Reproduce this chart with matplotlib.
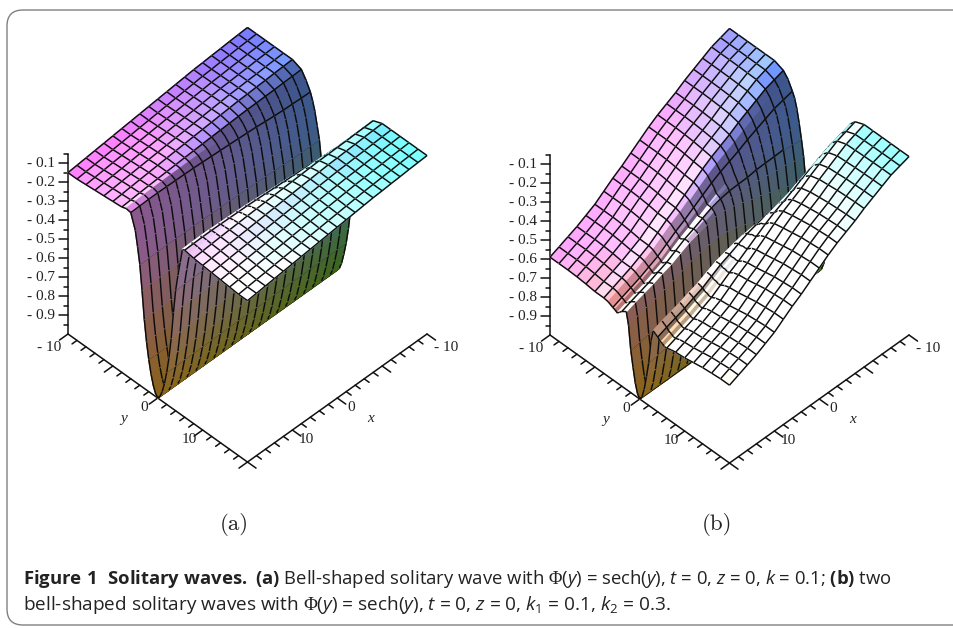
import numpy as np
import matplotlib
matplotlib.use("Agg")
import matplotlib.pyplot as plt
from matplotlib.patches import FancyBboxPatch
from mpl_toolkits.mplot3d import proj3d
from mpl_toolkits.mplot3d.art3d import Poly3DCollection

# x stations, front (x=20) to back (x=-20)
x_stations = [20, 18, 16, 14, 12, 10, 8, 6, 4, 2, 0, -2, -4, -6, -8, -10, -12, -14, -16, -18, -20]
# y positions of the surface rows, finer across the trough
y_knots = [-20, -18, -16, -14, -12, -10, -8, -7, -6, -5.5, -5, -4.5, -4, -3.5, -3, -2.5, -2, -1.5, -1, -0.5, 0,
           0.5, 1, 1.5, 2, 2.5, 3, 3.5, 4, 4.5, 5, 5.5, 6, 7, 8, 10, 12, 14, 16, 18, 20]

# (a) height of the outer edge (y=-20) at each x station
edge_a = [-0.15, -0.145, -0.14, -0.135, -0.13, -0.125, -0.12, -0.115, -0.11, -0.105, -0.10,
          -0.095, -0.09, -0.085, -0.08, -0.077, -0.073, -0.07, -0.066, -0.063, -0.06]
# (a) share of the height above z=-1 at each y knot, front of the trough
trough_a = [1.0, 1.0, 1.005, 1.01, 1.015, 1.02, 1.025, 1.035, 1.03, 0.985, 0.94, 0.85, 0.75, 0.6, 0.43, 0.3, 0.2, 0.12, 0.06, 0.02, 0.0,
            0.02, 0.06, 0.12, 0.2, 0.3, 0.43, 0.6, 0.75, 0.85, 0.94, 1.03, 1.035, 1.03, 1.025, 1.02, 1.015, 1.01, 1.005, 1.0, 1.0]
# (a) the rim gets rounder towards the back
soft_y = [0, 0, -0.005, -0.01, -0.015, -0.02, -0.045, -0.095, -0.14, -0.135, -0.14, -0.12, -0.09, -0.06, -0.03, -0.02, -0.01, 0, 0, 0, 0,
          0, 0, 0, -0.01, -0.02, -0.03, -0.06, -0.09, -0.12, -0.14, -0.16, -0.14, -0.09, -0.045, -0.02, -0.015, -0.01, -0.005, 0, 0]
soft_x = [0.0, 0.03, 0.06, 0.1, 0.15, 0.2, 0.25, 0.3, 0.36, 0.42, 0.48, 0.54, 0.6, 0.66, 0.72, 0.78, 0.84, 0.89, 0.93, 0.97, 1.0]

# (b) same idea, the outer edge bends much more
edge_b = [-0.59, -0.57, -0.55, -0.53, -0.505, -0.48, -0.445, -0.41, -0.38, -0.345, -0.31,
          -0.275, -0.245, -0.22, -0.195, -0.165, -0.14, -0.115, -0.09, -0.075, -0.06]
trough_b = [1.0, 1.0, 1.0, 1.0, 1.0, 1.0, 0.98, 0.95, 0.9, 0.87, 0.82, 0.75, 0.67, 0.58, 0.45, 0.32, 0.22, 0.13, 0.06, 0.02, 0.0,
            0.02, 0.06, 0.13, 0.22, 0.32, 0.45, 0.58, 0.67, 0.75, 0.82, 0.87, 0.9, 0.95, 0.98, 1.0, 1.0, 1.0, 1.0, 1.0, 1.0]
# (b) extra ripple next to the trough and how strong it is along x
ripple_y = [0, 0, 0, -0.005, -0.015, -0.03, -0.01, 0.01, 0.03, 0.05, 0.08, 0.18, 0.29, 0.40, 0.55, 0.53, 0.33, 0.22, 0.11, 0.03, 0,
            0.03, 0.11, 0.22, 0.33, 0.53, 0.55, 0.40, 0.29, 0.18, 0.1, 0.03, 0.0, -0.03, -0.05, -0.06, -0.04, -0.02, -0.01, 0, 0]
ripple_x = [1.0, 0.99, 0.97, 0.95, 0.93, 0.9, 0.87, 0.84, 0.8, 0.75, 0.7, 0.62, 0.54, 0.46, 0.38, 0.31, 0.24, 0.17, 0.11, 0.05, 0.0]

z_major = [-0.9, -0.8, -0.7, -0.6, -0.5, -0.4, -0.3, -0.2, -0.1]
z_labels = ["- 0.9", "- 0.8", "- 0.7", "- 0.6", "- 0.5", "- 0.4", "- 0.3", "- 0.2", "- 0.1"]
floor_ticks = [-20, -10, 0, 10, 20]
y_ticklabels = ["- 10", "", "0", "10", ""]
x_ticklabels = ["- 10", "", "0", "10", ""]

W, H = 954, 628
ELEV, AZIM = 45.5, 45
BOX_Z = 1.067

plt.rcParams.update({
    'mathtext.fontset': 'custom',
    'mathtext.rm': 'Open Sans',
    'mathtext.it': 'Open Sans:italic',
    'mathtext.bf': 'Open Sans:bold',
    'mathtext.cal': 'Liberation Serif',
    'mathtext.default': 'regular',
})

fig = plt.figure(figsize=(W / 100, H / 100), dpi=100, facecolor='white')

bg = fig.add_axes([0, 0, 1, 1], zorder=5)
bg.set_xlim(0, W)
bg.set_ylim(H, 0)
bg.axis('off')
bg.add_patch(FancyBboxPatch((7, 10), 1000, 615, boxstyle="round,pad=0,rounding_size=16",
                            fc='none', ec='#808080', lw=1))


def surface_colors(xc, yc, zc, zx, zy):
    kz = 42.8
    n = np.stack([-zx * kz, -zy * kz, np.ones_like(zc)], axis=-1)
    n = n / np.linalg.norm(n, axis=-1, keepdims=True)
    view = np.array([0.495, 0.495, 0.713])
    # faces seen from below get lit like their other side
    flip = (n @ view) < 0
    n[flip] = -n[flip]
    light = np.array([0.77, -0.45, 0.6])
    half = np.array([0.3, -0.3, 0.9])
    diff = np.clip((n @ light) / 0.6, 0.55, 2.0)
    spec = 0.35 * np.clip(n @ half, 0, 1) ** 40
    r = 0.42 + 0.58 * (xc + 20) / 40
    g = 0.42 + 0.58 * (yc + 20) / 40
    b = np.clip(0.15 + 1.2 * (zc + 1), 0, 1)
    rgb = np.stack([r, g, b], axis=-1) * diff[..., None] + spec[..., None]
    return np.clip(rgb, 0, 1)


def draw_surface(ax, xs, ys, zz):
    xs = np.array(xs, float)
    ys = np.array(ys, float)
    X, Y = np.meshgrid(xs, ys, indexing='ij')
    dx = xs[1:] - xs[:-1]
    dy = ys[1:] - ys[:-1]
    z00, z01, z10, z11 = zz[:-1, :-1], zz[:-1, 1:], zz[1:, :-1], zz[1:, 1:]
    zx = 0.5 * (z10 + z11 - z00 - z01) / dx[:, None]
    zy = 0.5 * (z01 + z11 - z00 - z10) / dy[None, :]
    zc = 0.25 * (z00 + z01 + z10 + z11)
    xc = 0.5 * (X[:-1, :-1] + X[1:, :-1])
    yc = 0.5 * (Y[:-1, :-1] + Y[:-1, 1:])
    rgb = surface_colors(xc, yc, zc, zx, zy)

    faces = np.stack([
        np.stack([X[:-1, :-1], Y[:-1, :-1], z00], -1),
        np.stack([X[:-1, 1:], Y[:-1, 1:], z01], -1),
        np.stack([X[1:, 1:], Y[1:, 1:], z11], -1),
        np.stack([X[1:, :-1], Y[1:, :-1], z10], -1)], axis=2).reshape(-1, 4, 3)
    face_rgba = np.column_stack([rgb.reshape(-1, 3), np.ones(faces.shape[0])])

    # mesh lines go in the same collection so the depth sort handles them,
    # moved along the view direction so they stay on top of their own cells
    e, a = np.radians(ELEV), np.radians(AZIM)
    d = 0.02
    shift = np.array([d * 40 * np.cos(e) * np.cos(a), d * 40 * np.cos(e) * np.sin(a), d * np.sin(e) / BOX_Z])
    segs = []
    for i in range(len(xs)):
        for j in range(len(ys) - 1):
            p, q = np.array([xs[i], ys[j], zz[i, j]]), np.array([xs[i], ys[j + 1], zz[i, j + 1]])
            segs.append([p + shift, q + shift, q + shift, p + shift])
    for j in range(len(ys)):
        if ys[j] % 2 != 0:
            continue
        for i in range(len(xs) - 1):
            p, q = np.array([xs[i], ys[j], zz[i, j]]), np.array([xs[i + 1], ys[j], zz[i + 1, j]])
            segs.append([p + shift, q + shift, q + shift, p + shift])
    segs = np.array(segs)

    verts = np.concatenate([faces, segs])
    fc = np.vstack([face_rgba, np.zeros((len(segs), 4))])
    ec = np.vstack([face_rgba, np.tile([0.05, 0.05, 0.05, 1.0], (len(segs), 1))])
    col = Poly3DCollection(verts, facecolors=fc, edgecolors=ec, linewidths=1.05, zorder=3)
    ax.add_collection3d(col, autolim=False)


def draw_frame(ax):
    kw = dict(color='#111111', lw=1.1, zorder=1, solid_capstyle='round')
    ax.plot([20, 20], [-20, -20], [-1, -0.05], **kw)
    ax.plot([20, 20], [-20, 20], [-1, -1], **kw)
    ax.plot([-20, 20], [20, 20], [-1, -1], **kw)
    for k in range(19):
        z = -0.05 - 0.05 * k
        n = 1.0 if k % 2 == 1 else 0.5
        ax.plot([20, 20 + n], [-20, -20 - n], [z, z], **kw)
    for t in range(-20, 21, 2):
        n = 1.9 if t in floor_ticks else 1.1
        ax.plot([20, 20 + n], [t, t], [-1, -1], **kw)
        ax.plot([t, t], [20, 20 + n], [-1, -1], **kw)


def label_frame(ax):
    # labels sit in the page axes, at the pixel the 3d point lands on
    txt = dict(family=['Liberation Serif', 'DejaVu Serif'], fontsize=11, color='#222222')
    m = ax.get_proj()

    def put(x, y, z, s, **kw):
        px, py, _ = proj3d.proj_transform(x, y, z, m)
        p = ax.transData.transform((px, py))
        bg.text(p[0], H - p[1], s, **kw, **txt)

    for z, lab in zip(z_major, z_labels):
        put(20 + 1.45, -20 - 1.45, z, lab, ha='right', va='center')
    for t, lab in zip(floor_ticks, y_ticklabels):
        off = 4.2 if t == -20 else 3.0
        put(20 + off, t, -1, lab, ha='center', va='center')
    for t, lab in zip(floor_ticks[::-1], x_ticklabels):
        t = -t
        off = 4.2 if t == -20 else 3.0
        put(t, 20 + off, -1, lab, ha='center', va='center')
    put(20 + 7.0, -0.5, -1, 'y', ha='center', va='center', style='italic')
    put(-0.5, 20 + 7.0, -1, 'x', ha='center', va='center', style='italic')


def fit_box(ax, left_px, floor_px):
    # move the square axes so the floor corners land on the wanted pixels
    side = 600.0
    x0, y0 = 100.0, 100.0
    for _ in range(3):
        ax.set_position([x0 / W, y0 / H, side / W, side / H])
        ax.apply_aspect()
        m = ax.get_proj()
        ax_, ay_, _z = proj3d.proj_transform(20, -20, -1, m)
        bx_, by_, _z = proj3d.proj_transform(-20, 20, -1, m)
        pa = ax.transData.transform((ax_, ay_))
        pb = ax.transData.transform((bx_, by_))
        side = side * 359.0 / (pb[0] - pa[0])
        ax.set_position([x0 / W, y0 / H, side / W, side / H])
        ax.apply_aspect()
        pa = ax.transData.transform((ax_, ay_))
        x0 += left_px - pa[0]
        y0 += (H - floor_px) - pa[1]
    ax.set_position([x0 / W, y0 / H, side / W, side / H])
    ax.apply_aspect()


def make_panel(zz, left_px, floor_px):
    ax = fig.add_axes([0.1, 0.1, 0.6, 0.9], projection='3d', proj_type='ortho')
    ax.computed_zorder = False
    ax.view_init(elev=ELEV, azim=AZIM)
    ax.set_box_aspect((1, 1, BOX_Z))
    ax.set_axis_off()
    ax.patch.set_alpha(0)
    draw_frame(ax)
    draw_surface(ax, x_stations, y_knots, zz)
    ax.set_xlim(-20, 20)
    ax.set_ylim(-20, 20)
    ax.set_zlim(-1, 0)
    fit_box(ax, left_px, floor_px)
    label_frame(ax)
    for art in ax.lines:
        art.set_clip_on(False)
    return ax


height_a = 1 + np.array(edge_a)
height_b = 1 + np.array(edge_b)
zz_a = -1 + height_a[:, None] * (np.array(trough_a)[None, :] + np.outer(soft_x, soft_y))
zz_b = -1 + height_b[:, None] * (np.array(trough_b)[None, :] + np.outer(ripple_x, ripple_y))

make_panel(zz_a, 68, 334)
make_panel(zz_b, 550, 335)

serif = ['cmr10', 'Liberation Serif']
bg.text(234, 525, '(a)', ha='center', va='center', family=serif, fontsize=16.5, color='#222222')
bg.text(717, 525, '(b)', ha='center', va='center', family=serif, fontsize=16.5, color='#222222')

cap1 = (r"$\mathbf{Figure\ 1\ \ Solitary\ waves.\ (a)}$ Bell-shaped solitary wave with "
        r"$\mathcal{\Phi}$($\mathit{y}$) = sech($\mathit{y}$), $\mathit{t}$ = 0, $\mathit{z}$ = 0, "
        r"$\mathit{k}$ = 0.1; $\mathbf{(b)}$ two")
cap2 = (r"bell-shaped solitary waves with $\mathcal{\Phi}$($\mathit{y}$) = sech($\mathit{y}$), "
        r"$\mathit{t}$ = 0, $\mathit{z}$ = 0, $\mathit{k}_1$ = 0.1, $\mathit{k}_2$ = 0.3.")
bg.text(23, 579, cap1, ha='left', va='center', family='Open Sans', fontsize=13.3, color='#222222')
bg.text(23, 605, cap2, ha='left', va='center', family='Open Sans', fontsize=13.7, color='#222222')

fig.savefig("out.png", dpi=100)
